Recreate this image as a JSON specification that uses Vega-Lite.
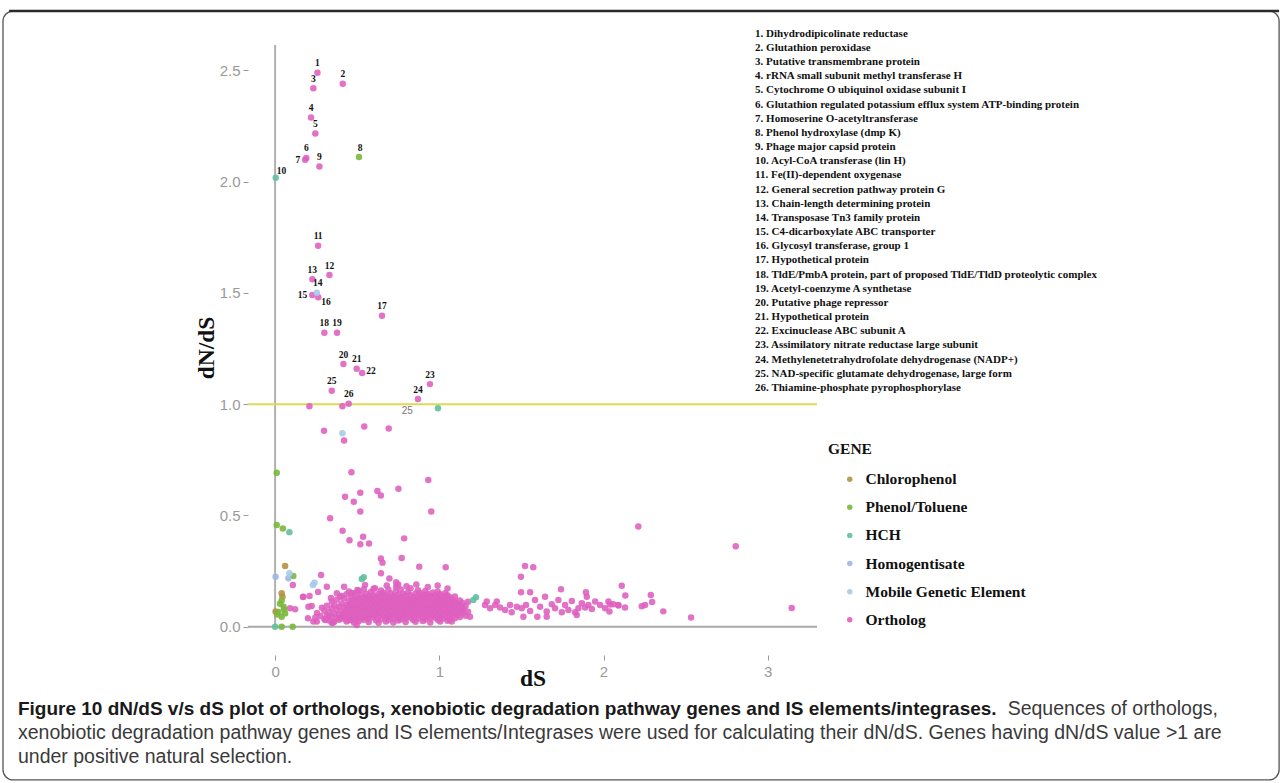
{
  "$schema": "https://vega.github.io/schema/vega-lite/v6.json",
  "width": 569,
  "height": 615,
  "autosize": {"type": "none"},
  "padding": {"left": 248, "top": 40, "right": 465, "bottom": 128},
  "background": "white",
  "config": {
    "view": {"stroke": null},
    "axis": {"grid": false, "domain": false}
  },
  "datasets": {
    "one": [{}],
    "ortho": [
      {"dS":0.258,"dNdS":2.489,"id":"1"},{"dS":0.412,"dNdS":2.439,"id":"2"},{"dS":0.233,"dNdS":2.419,"id":"3"},{"dS":0.219,"dNdS":2.288,"id":"4"},{"dS":0.245,"dNdS":2.216,"id":"5"},{"dS":0.190,"dNdS":2.106,"id":"6"},{"dS":0.183,"dNdS":2.098,"id":"7"},{"dS":0.270,"dNdS":2.068,"id":"9"},{"dS":0.262,"dNdS":1.712,"id":"11"},{"dS":0.331,"dNdS":1.580,"id":"12"},{"dS":0.227,"dNdS":1.561,"id":"13"},{"dS":0.227,"dNdS":1.490,"id":"15"},{"dS":0.263,"dNdS":1.480,"id":"16"},{"dS":0.651,"dNdS":1.397,"id":"17"},{"dS":0.300,"dNdS":1.321,"id":"18"},{"dS":0.377,"dNdS":1.321,"id":"19"},{"dS":0.416,"dNdS":1.180,"id":"20"},{"dS":0.497,"dNdS":1.159,"id":"21"},{"dS":0.530,"dNdS":1.140,"id":"22"},{"dS":0.943,"dNdS":1.090,"id":"23"},{"dS":0.870,"dNdS":1.023,"id":"24"},{"dS":0.345,"dNdS":1.060,"id":"25"},{"dS":0.448,"dNdS":1.002,"id":"26"},
      {"dS":0.209,"dNdS":0.991},{"dS":0.410,"dNdS":0.991},{"dS":0.298,"dNdS":0.880},{"dS":0.420,"dNdS":0.837},{"dS":0.543,"dNdS":0.900},{"dS":0.692,"dNdS":0.891},
      {"dS":0.465,"dNdS":0.694},{"dS":0.933,"dNdS":0.659},{"dS":0.426,"dNdS":0.584},{"dS":0.519,"dNdS":0.602},{"dS":0.479,"dNdS":0.562},{"dS":0.623,"dNdS":0.610},{"dS":0.644,"dNdS":0.590},{"dS":0.751,"dNdS":0.620},{"dS":0.519,"dNdS":0.518},{"dS":0.951,"dNdS":0.518},{"dS":0.335,"dNdS":0.487},{"dS":0.411,"dNdS":0.431},{"dS":0.453,"dNdS":0.389},{"dS":0.536,"dNdS":0.404},{"dS":0.519,"dNdS":0.371},{"dS":0.572,"dNdS":0.374},{"dS":0.786,"dNdS":0.397},{"dS":0.644,"dNdS":0.307},{"dS":0.654,"dNdS":0.288},{"dS":0.771,"dNdS":0.309},{"dS":0.878,"dNdS":0.270},{"dS":1.039,"dNdS":0.267},{"dS":1.522,"dNdS":0.273},{"dS":1.572,"dNdS":0.267},{"dS":0.280,"dNdS":0.232},{"dS":0.108,"dNdS":0.187},{"dS":0.645,"dNdS":0.240},{"dS":0.696,"dNdS":0.217},{"dS":1.497,"dNdS":0.225},
      {"dS":2.212,"dNdS":0.450},{"dS":2.805,"dNdS":0.362},{"dS":3.146,"dNdS":0.084},{"dS":2.533,"dNdS":0.041},{"dS":2.364,"dNdS":0.069},{"dS":2.288,"dNdS":0.143},{"dS":2.296,"dNdS":0.111},{"dS":2.233,"dNdS":0.092},{"dS":2.253,"dNdS":0.098},{"dS":2.111,"dNdS":0.184},{"dS":2.133,"dNdS":0.140},{"dS":2.131,"dNdS":0.086},{"dS":2.091,"dNdS":0.095},{"dS":2.040,"dNdS":0.100},{"dS":2.036,"dNdS":0.068},{"dS":1.893,"dNdS":0.155},{"dS":1.898,"dNdS":0.135},{"dS":1.741,"dNdS":0.168},{"dS":1.498,"dNdS":0.155},{"dS":1.553,"dNdS":0.155},
      {"dS":0.737,"dNdS":0.200},{"dS":0.737,"dNdS":0.180},{"dS":0.608,"dNdS":0.173},{"dS":0.548,"dNdS":0.188},{"dS":0.501,"dNdS":0.165},{"dS":0.467,"dNdS":0.150},{"dS":0.170,"dNdS":0.134},{"dS":0.210,"dNdS":0.138},{"dS":0.223,"dNdS":0.093},{"dS":0.262,"dNdS":0.156},{"dS":0.340,"dNdS":0.129},{"dS":0.420,"dNdS":0.180},{"dS":0.376,"dNdS":0.150},{"dS":0.315,"dNdS":0.180},{"dS":0.396,"dNdS":0.135},
      {"dS":0.200,"dNdS":0.038},{"dS":0.254,"dNdS":0.023},{"dS":0.305,"dNdS":0.030},{"dS":0.345,"dNdS":0.018},{"dS":0.446,"dNdS":0.030},{"dS":0.497,"dNdS":0.008},{"dS":0.233,"dNdS":0.023},{"dS":0.325,"dNdS":0.045},{"dS":0.352,"dNdS":0.018},{"dS":0.396,"dNdS":0.038},{"dS":1.076,"dNdS":0.023},{"dS":1.147,"dNdS":0.075},{"dS":1.187,"dNdS":0.045},{"dS":0.091,"dNdS":0.083},{"dS":0.122,"dNdS":0.079},{"dS":0.203,"dNdS":0.090},{"dS":0.172,"dNdS":0.135},{"dS":0.255,"dNdS":0.062},{"dS":0.275,"dNdS":0.048},{"dS":0.285,"dNdS":0.085},{"dS":0.245,"dNdS":0.041},
      {"dS":0.80,"dNdS":0.182},{"dS":0.86,"dNdS":0.190},{"dS":0.93,"dNdS":0.178},{"dS":0.99,"dNdS":0.185},{"dS":0.75,"dNdS":0.190},{"dS":1.05,"dNdS":0.172},{"dS":0.68,"dNdS":0.185},
      {"dS":1.278,"dNdS":0.098},{"dS":1.309,"dNdS":0.083},{"dS":1.340,"dNdS":0.098},{"dS":1.370,"dNdS":0.086},{"dS":1.401,"dNdS":0.075},{"dS":1.431,"dNdS":0.098},{"dS":1.441,"dNdS":0.065},{"dS":1.472,"dNdS":0.090},{"dS":1.502,"dNdS":0.083},{"dS":1.528,"dNdS":0.098},{"dS":1.553,"dNdS":0.071},{"dS":1.583,"dNdS":0.120},{"dS":1.597,"dNdS":0.045},{"dS":1.614,"dNdS":0.090},{"dS":1.644,"dNdS":0.135},{"dS":1.654,"dNdS":0.068},{"dS":1.685,"dNdS":0.101},{"dS":1.705,"dNdS":0.083},{"dS":1.725,"dNdS":0.120},{"dS":1.746,"dNdS":0.065},{"dS":1.766,"dNdS":0.098},{"dS":1.786,"dNdS":0.075},{"dS":1.807,"dNdS":0.116},{"dS":1.827,"dNdS":0.065},{"dS":1.847,"dNdS":0.083},{"dS":1.868,"dNdS":0.105},{"dS":1.888,"dNdS":0.086},{"dS":1.908,"dNdS":0.098},{"dS":1.929,"dNdS":0.080},{"dS":1.949,"dNdS":0.113},{"dS":1.979,"dNdS":0.098},{"dS":2.010,"dNdS":0.083},{"dS":2.030,"dNdS":0.113},{"dS":2.060,"dNdS":0.101},{"dS":2.090,"dNdS":0.098},{"dS":1.289,"dNdS":0.113},{"dS":1.350,"dNdS":0.113},{"dS":1.512,"dNdS":0.045},{"dS":1.654,"dNdS":0.045},{"dS":1.837,"dNdS":0.053},
      {"dS":0.300,"dNdS":0.035},{"dS":0.300,"dNdS":0.072},{"dS":0.315,"dNdS":0.052},{"dS":0.315,"dNdS":0.094},{"dS":0.330,"dNdS":0.028},{"dS":0.330,"dNdS":0.066},{"dS":0.345,"dNdS":0.047},{"dS":0.345,"dNdS":0.083},{"dS":0.345,"dNdS":0.112},{"dS":0.360,"dNdS":0.022},{"dS":0.360,"dNdS":0.058},{"dS":0.360,"dNdS":0.097},{"dS":0.375,"dNdS":0.041},{"dS":0.375,"dNdS":0.076},{"dS":0.375,"dNdS":0.121},{"dS":0.390,"dNdS":0.054},{"dS":0.390,"dNdS":0.091},{"dS":0.390,"dNdS":0.031},
      {"dS":0.405,"dNdS":0.068},{"dS":0.405,"dNdS":0.104},{"dS":0.405,"dNdS":0.043},{"dS":0.405,"dNdS":0.138},{"dS":0.420,"dNdS":0.036},{"dS":0.420,"dNdS":0.061},{"dS":0.420,"dNdS":0.087},{"dS":0.420,"dNdS":0.127},{"dS":0.435,"dNdS":0.049},{"dS":0.435,"dNdS":0.074},{"dS":0.435,"dNdS":0.099},{"dS":0.435,"dNdS":0.146},{"dS":0.435,"dNdS":0.024},{"dS":0.450,"dNdS":0.041},{"dS":0.450,"dNdS":0.066},{"dS":0.450,"dNdS":0.092},{"dS":0.450,"dNdS":0.117},{"dS":0.450,"dNdS":0.158},{"dS":0.465,"dNdS":0.029},{"dS":0.465,"dNdS":0.056},{"dS":0.465,"dNdS":0.081},{"dS":0.465,"dNdS":0.107},{"dS":0.465,"dNdS":0.133},
      {"dS":0.480,"dNdS":0.046},{"dS":0.480,"dNdS":0.071},{"dS":0.480,"dNdS":0.094},{"dS":0.480,"dNdS":0.122},{"dS":0.480,"dNdS":0.151},{"dS":0.480,"dNdS":0.019},{"dS":0.495,"dNdS":0.034},{"dS":0.495,"dNdS":0.062},{"dS":0.495,"dNdS":0.086},{"dS":0.495,"dNdS":0.112},{"dS":0.495,"dNdS":0.137},{"dS":0.510,"dNdS":0.051},{"dS":0.510,"dNdS":0.077},{"dS":0.510,"dNdS":0.101},{"dS":0.510,"dNdS":0.128},{"dS":0.510,"dNdS":0.162},{"dS":0.510,"dNdS":0.026},{"dS":0.525,"dNdS":0.039},{"dS":0.525,"dNdS":0.067},{"dS":0.525,"dNdS":0.089},{"dS":0.525,"dNdS":0.116},{"dS":0.525,"dNdS":0.143},
      {"dS":0.540,"dNdS":0.031},{"dS":0.540,"dNdS":0.054},{"dS":0.540,"dNdS":0.082},{"dS":0.540,"dNdS":0.108},{"dS":0.540,"dNdS":0.131},{"dS":0.540,"dNdS":0.168},{"dS":0.555,"dNdS":0.044},{"dS":0.555,"dNdS":0.072},{"dS":0.555,"dNdS":0.096},{"dS":0.555,"dNdS":0.123},{"dS":0.555,"dNdS":0.148},{"dS":0.570,"dNdS":0.036},{"dS":0.570,"dNdS":0.061},{"dS":0.570,"dNdS":0.087},{"dS":0.570,"dNdS":0.113},{"dS":0.570,"dNdS":0.138},{"dS":0.570,"dNdS":0.021},{"dS":0.585,"dNdS":0.052},{"dS":0.585,"dNdS":0.076},{"dS":0.585,"dNdS":0.103},{"dS":0.585,"dNdS":0.127},{"dS":0.585,"dNdS":0.157},
      {"dS":0.600,"dNdS":0.041},{"dS":0.600,"dNdS":0.066},{"dS":0.600,"dNdS":0.092},{"dS":0.600,"dNdS":0.118},{"dS":0.600,"dNdS":0.142},{"dS":0.600,"dNdS":0.171},{"dS":0.615,"dNdS":0.029},{"dS":0.615,"dNdS":0.057},{"dS":0.615,"dNdS":0.081},{"dS":0.615,"dNdS":0.106},{"dS":0.615,"dNdS":0.133},{"dS":0.630,"dNdS":0.047},{"dS":0.630,"dNdS":0.071},{"dS":0.630,"dNdS":0.097},{"dS":0.630,"dNdS":0.121},{"dS":0.630,"dNdS":0.147},{"dS":0.630,"dNdS":0.018},{"dS":0.645,"dNdS":0.034},{"dS":0.645,"dNdS":0.062},{"dS":0.645,"dNdS":0.086},{"dS":0.645,"dNdS":0.112},{"dS":0.645,"dNdS":0.136},{"dS":0.645,"dNdS":0.163},
      {"dS":0.660,"dNdS":0.051},{"dS":0.660,"dNdS":0.077},{"dS":0.660,"dNdS":0.102},{"dS":0.660,"dNdS":0.126},{"dS":0.660,"dNdS":0.152},{"dS":0.675,"dNdS":0.039},{"dS":0.675,"dNdS":0.064},{"dS":0.675,"dNdS":0.091},{"dS":0.675,"dNdS":0.117},{"dS":0.675,"dNdS":0.141},{"dS":0.675,"dNdS":0.024},{"dS":0.690,"dNdS":0.031},{"dS":0.690,"dNdS":0.056},{"dS":0.690,"dNdS":0.083},{"dS":0.690,"dNdS":0.108},{"dS":0.690,"dNdS":0.132},{"dS":0.690,"dNdS":0.166},{"dS":0.705,"dNdS":0.046},{"dS":0.705,"dNdS":0.072},{"dS":0.705,"dNdS":0.097},{"dS":0.705,"dNdS":0.122},{"dS":0.705,"dNdS":0.149},
      {"dS":0.720,"dNdS":0.036},{"dS":0.720,"dNdS":0.061},{"dS":0.720,"dNdS":0.088},{"dS":0.720,"dNdS":0.113},{"dS":0.720,"dNdS":0.138},{"dS":0.720,"dNdS":0.019},{"dS":0.735,"dNdS":0.053},{"dS":0.735,"dNdS":0.078},{"dS":0.735,"dNdS":0.103},{"dS":0.735,"dNdS":0.128},{"dS":0.735,"dNdS":0.158},{"dS":0.750,"dNdS":0.042},{"dS":0.750,"dNdS":0.067},{"dS":0.750,"dNdS":0.093},{"dS":0.750,"dNdS":0.118},{"dS":0.750,"dNdS":0.143},{"dS":0.750,"dNdS":0.028},{"dS":0.765,"dNdS":0.032},{"dS":0.765,"dNdS":0.057},{"dS":0.765,"dNdS":0.082},{"dS":0.765,"dNdS":0.107},{"dS":0.765,"dNdS":0.134},{"dS":0.765,"dNdS":0.167},
      {"dS":0.780,"dNdS":0.047},{"dS":0.780,"dNdS":0.072},{"dS":0.780,"dNdS":0.098},{"dS":0.780,"dNdS":0.123},{"dS":0.780,"dNdS":0.148},{"dS":0.795,"dNdS":0.037},{"dS":0.795,"dNdS":0.062},{"dS":0.795,"dNdS":0.087},{"dS":0.795,"dNdS":0.114},{"dS":0.795,"dNdS":0.139},{"dS":0.795,"dNdS":0.021},{"dS":0.810,"dNdS":0.052},{"dS":0.810,"dNdS":0.077},{"dS":0.810,"dNdS":0.102},{"dS":0.810,"dNdS":0.127},{"dS":0.810,"dNdS":0.156},{"dS":0.825,"dNdS":0.041},{"dS":0.825,"dNdS":0.066},{"dS":0.825,"dNdS":0.092},{"dS":0.825,"dNdS":0.117},{"dS":0.825,"dNdS":0.142},{"dS":0.825,"dNdS":0.173},
      {"dS":0.840,"dNdS":0.031},{"dS":0.840,"dNdS":0.056},{"dS":0.840,"dNdS":0.083},{"dS":0.840,"dNdS":0.108},{"dS":0.840,"dNdS":0.131},{"dS":0.855,"dNdS":0.046},{"dS":0.855,"dNdS":0.071},{"dS":0.855,"dNdS":0.096},{"dS":0.855,"dNdS":0.121},{"dS":0.855,"dNdS":0.149},{"dS":0.855,"dNdS":0.022},{"dS":0.870,"dNdS":0.036},{"dS":0.870,"dNdS":0.062},{"dS":0.870,"dNdS":0.088},{"dS":0.870,"dNdS":0.112},{"dS":0.870,"dNdS":0.137},{"dS":0.870,"dNdS":0.164},{"dS":0.885,"dNdS":0.053},{"dS":0.885,"dNdS":0.078},{"dS":0.885,"dNdS":0.103},{"dS":0.885,"dNdS":0.126},{"dS":0.885,"dNdS":0.152},
      {"dS":0.900,"dNdS":0.042},{"dS":0.900,"dNdS":0.067},{"dS":0.900,"dNdS":0.092},{"dS":0.900,"dNdS":0.118},{"dS":0.900,"dNdS":0.144},{"dS":0.900,"dNdS":0.026},{"dS":0.915,"dNdS":0.032},{"dS":0.915,"dNdS":0.057},{"dS":0.915,"dNdS":0.082},{"dS":0.915,"dNdS":0.108},{"dS":0.915,"dNdS":0.133},{"dS":0.915,"dNdS":0.161},{"dS":0.930,"dNdS":0.047},{"dS":0.930,"dNdS":0.073},{"dS":0.930,"dNdS":0.097},{"dS":0.930,"dNdS":0.123},{"dS":0.930,"dNdS":0.147},{"dS":0.945,"dNdS":0.037},{"dS":0.945,"dNdS":0.061},{"dS":0.945,"dNdS":0.087},{"dS":0.945,"dNdS":0.113},{"dS":0.945,"dNdS":0.139},{"dS":0.945,"dNdS":0.019},
      {"dS":0.960,"dNdS":0.052},{"dS":0.960,"dNdS":0.077},{"dS":0.960,"dNdS":0.101},{"dS":0.960,"dNdS":0.127},{"dS":0.960,"dNdS":0.154},{"dS":0.975,"dNdS":0.041},{"dS":0.975,"dNdS":0.066},{"dS":0.975,"dNdS":0.092},{"dS":0.975,"dNdS":0.117},{"dS":0.975,"dNdS":0.142},{"dS":0.990,"dNdS":0.031},{"dS":0.990,"dNdS":0.056},{"dS":0.990,"dNdS":0.082},{"dS":0.990,"dNdS":0.107},{"dS":0.990,"dNdS":0.132},{"dS":0.990,"dNdS":0.158},{"dS":1.005,"dNdS":0.046},{"dS":1.005,"dNdS":0.071},{"dS":1.005,"dNdS":0.096},{"dS":1.005,"dNdS":0.121},{"dS":1.005,"dNdS":0.146},{"dS":1.005,"dNdS":0.023},
      {"dS":1.020,"dNdS":0.036},{"dS":1.020,"dNdS":0.062},{"dS":1.020,"dNdS":0.087},{"dS":1.020,"dNdS":0.112},{"dS":1.020,"dNdS":0.137},{"dS":1.035,"dNdS":0.052},{"dS":1.035,"dNdS":0.077},{"dS":1.035,"dNdS":0.102},{"dS":1.035,"dNdS":0.127},{"dS":1.035,"dNdS":0.151},{"dS":1.050,"dNdS":0.042},{"dS":1.050,"dNdS":0.067},{"dS":1.050,"dNdS":0.093},{"dS":1.050,"dNdS":0.117},{"dS":1.050,"dNdS":0.141},{"dS":1.050,"dNdS":0.027},{"dS":1.065,"dNdS":0.032},{"dS":1.065,"dNdS":0.058},{"dS":1.065,"dNdS":0.083},{"dS":1.065,"dNdS":0.108},{"dS":1.065,"dNdS":0.133},
      {"dS":1.080,"dNdS":0.048},{"dS":1.080,"dNdS":0.073},{"dS":1.080,"dNdS":0.098},{"dS":1.080,"dNdS":0.122},{"dS":1.095,"dNdS":0.038},{"dS":1.095,"dNdS":0.063},{"dS":1.095,"dNdS":0.088},{"dS":1.095,"dNdS":0.113},{"dS":1.095,"dNdS":0.136},{"dS":1.110,"dNdS":0.053},{"dS":1.110,"dNdS":0.078},{"dS":1.110,"dNdS":0.104},{"dS":1.125,"dNdS":0.044},{"dS":1.125,"dNdS":0.069},{"dS":1.125,"dNdS":0.094},{"dS":1.125,"dNdS":0.118},{"dS":1.140,"dNdS":0.059},{"dS":1.140,"dNdS":0.084},{"dS":1.140,"dNdS":0.108},{"dS":1.160,"dNdS":0.049},{"dS":1.160,"dNdS":0.093},{"dS":1.175,"dNdS":0.067},{"dS":1.175,"dNdS":0.112}
    ],
    "other": [
      {"dS":0.511,"dNdS":2.110,"gene":"Phenol/Toluene","id":"8"},
      {"dS":0.004,"dNdS":2.017,"gene":"HCH","id":"10"},
      {"dS":0.254,"dNdS":1.500,"gene":"Mobile Genetic Element","id":"14"},
      {"dS":0.061,"dNdS":0.273,"gene":"Chlorophenol"},
      {"dS":0.040,"dNdS":0.150,"gene":"Chlorophenol"},
      {"dS":0.003,"dNdS":0.068,"gene":"Chlorophenol"},
      {"dS":0.045,"dNdS":0.135,"gene":"Chlorophenol"},
      {"dS":0.010,"dNdS":0.692,"gene":"Phenol/Toluene"},
      {"dS":0.010,"dNdS":0.457,"gene":"Phenol/Toluene"},
      {"dS":0.047,"dNdS":0.441,"gene":"Phenol/Toluene"},
      {"dS":0.111,"dNdS":0.228,"gene":"Phenol/Toluene"},
      {"dS":0.040,"dNdS":0.118,"gene":"Phenol/Toluene"},
      {"dS":0.030,"dNdS":0.103,"gene":"Phenol/Toluene"},
      {"dS":0.052,"dNdS":0.090,"gene":"Phenol/Toluene"},
      {"dS":0.020,"dNdS":0.066,"gene":"Phenol/Toluene"},
      {"dS":0.061,"dNdS":0.060,"gene":"Phenol/Toluene"},
      {"dS":0.040,"dNdS":0.045,"gene":"Phenol/Toluene"},
      {"dS":0.040,"dNdS":0.000,"gene":"Phenol/Toluene"},
      {"dS":0.107,"dNdS":0.000,"gene":"Phenol/Toluene"},
      {"dS":0.012,"dNdS":0.055,"gene":"Phenol/Toluene"},
      {"dS":0.055,"dNdS":0.078,"gene":"Phenol/Toluene"},
      {"dS":0.992,"dNdS":0.982,"gene":"HCH"},
      {"dS":0.087,"dNdS":0.425,"gene":"HCH"},
      {"dS":0.528,"dNdS":0.214,"gene":"HCH"},
      {"dS":0.540,"dNdS":0.222,"gene":"HCH"},
      {"dS":1.207,"dNdS":0.120,"gene":"HCH"},
      {"dS":1.223,"dNdS":0.133,"gene":"HCH"},
      {"dS":0.000,"dNdS":0.000,"gene":"HCH"},
      {"dS":0.003,"dNdS":0.225,"gene":"Homogentisate"},
      {"dS":0.081,"dNdS":0.218,"gene":"Homogentisate"},
      {"dS":0.410,"dNdS":0.869,"gene":"Mobile Genetic Element"},
      {"dS":0.087,"dNdS":0.240,"gene":"Mobile Genetic Element"},
      {"dS":0.240,"dNdS":0.198,"gene":"Mobile Genetic Element"},
      {"dS":0.230,"dNdS":0.188,"gene":"Mobile Genetic Element"}
    ],
    "key": [
      {"n":1,"label":"1. Dihydrodipicolinate reductase"},
      {"n":2,"label":"2. Glutathion peroxidase"},
      {"n":3,"label":"3. Putative transmembrane protein"},
      {"n":4,"label":"4. rRNA small subunit methyl transferase H"},
      {"n":5,"label":"5. Cytochrome O ubiquinol oxidase subunit I"},
      {"n":6,"label":"6. Glutathion regulated potassium efflux system ATP-binding protein"},
      {"n":7,"label":"7. Homoserine O-acetyltransferase"},
      {"n":8,"label":"8. Phenol hydroxylase (dmp K)"},
      {"n":9,"label":"9. Phage major capsid protein"},
      {"n":10,"label":"10. Acyl-CoA transferase (lin H)"},
      {"n":11,"label":"11. Fe(II)-dependent oxygenase"},
      {"n":12,"label":"12. General secretion pathway protein G"},
      {"n":13,"label":"13. Chain-length determining protein"},
      {"n":14,"label":"14. Transposase Tn3 family protein"},
      {"n":15,"label":"15. C4-dicarboxylate ABC transporter"},
      {"n":16,"label":"16. Glycosyl transferase, group 1"},
      {"n":17,"label":"17. Hypothetical protein"},
      {"n":18,"label":"18. TldE/PmbA protein, part of proposed TldE/TldD proteolytic complex"},
      {"n":19,"label":"19. Acetyl-coenzyme A synthetase"},
      {"n":20,"label":"20. Putative phage repressor"},
      {"n":21,"label":"21. Hypothetical protein"},
      {"n":22,"label":"22. Excinuclease ABC subunit A"},
      {"n":23,"label":"23. Assimilatory nitrate reductase large subunit"},
      {"n":24,"label":"24. Methylenetetrahydrofolate dehydrogenase (NADP+)"},
      {"n":25,"label":"25. NAD-specific glutamate dehydrogenase, large form"},
      {"n":26,"label":"26. Thiamine-phosphate pyrophosphorylase"}
    ]
  },
  "layer": [
    {
      "layer": [
        {
          "data": {"name": "one"},
          "mark": {"type": "rect", "fill": null, "fillOpacity": 0, "stroke": "#555555", "strokeWidth": 1.3, "cornerRadius": 10},
          "encoding": {
            "x": {"datum": -1.657}, "x2": {"datum": 6.114},
            "y": {"datum": 2.766}, "y2": {"datum": -0.688}
          }
        },
        {
          "data": {"name": "one"},
          "mark": {"type": "rule", "color": "#2a2a2a", "strokeWidth": 2.5},
          "encoding": {
            "x": {"datum": -1.62}, "x2": {"datum": 6.114},
            "y": {"datum": 2.766}
          }
        },
        {
          "data": {"name": "one"},
          "mark": {"type": "rule", "color": "#a8a8a8", "strokeWidth": 2},
          "encoding": {"y": {"datum": 0}}
        },
        {
          "data": {"name": "one"},
          "mark": {"type": "rule", "color": "#b0b0b0", "strokeWidth": 2},
          "encoding": {"x": {"datum": 0}, "y": {"datum": 0}, "y2": {"datum": 2.614}}
        },
        {
          "data": {"name": "one"},
          "mark": {"type": "rule", "color": "#DEDA55", "strokeWidth": 2},
          "encoding": {"y": {"datum": 1}}
        },
        {
          "data": {"name": "ortho"},
          "mark": {"type": "circle", "size": 42, "opacity": 0.88},
          "encoding": {
            "x": {
              "field": "dS", "type": "quantitative",
              "scale": {"domain": [-0.165, 3.3], "nice": false, "zero": false},
              "axis": {
                "values": [0, 1, 2, 3], "format": "d",
                "labelFont": "Liberation Sans", "labelFontSize": 15, "labelColor": "#9a9a9a",
                "tickColor": "#9a9a9a", "tickSize": 5, "tickWidth": 1, "labelPadding": 4,
                "title": "dS", "titleFont": "Liberation Serif", "titleFontSize": 23.5,
                "titleFontWeight": "bold", "titleColor": "#111111", "titlePadding": -13
              }
            },
            "y": {
              "field": "dNdS", "type": "quantitative",
              "scale": {"domain": [-0.127, 2.636], "nice": false, "zero": false},
              "axis": {
                "values": [0, 0.5, 1, 1.5, 2, 2.5], "format": ".1f",
                "labelFont": "Liberation Sans", "labelFontSize": 15, "labelColor": "#9a9a9a",
                "tickColor": "#9a9a9a", "tickSize": 5, "tickWidth": 1, "labelPadding": 3,
                "title": "dN/dS", "titleFont": "Liberation Serif", "titleFontSize": 23.5,
                "titleFontWeight": "bold", "titleColor": "#111111", "titlePadding": 1
              }
            },
            "color": {
              "datum": "Ortholog", "type": "nominal",
              "scale": {
                "domain": ["Chlorophenol", "Phenol/Toluene", "HCH", "Homogentisate", "Mobile Genetic Element", "Ortholog"],
                "range": ["#B49244", "#7AB83C", "#62C0A0", "#9CB9E0", "#A4CBEA", "#DE5FBE"]
              },
              "legend": {
                "title": "GENE", "orient": "none", "legendX": 580, "legendY": 402,
                "padding": 0,
                "titleFont": "Liberation Serif", "titleFontSize": 15.5, "titleFontWeight": "bold", "titleColor": "#111111", "titlePadding": 14,
                "labelFont": "Liberation Serif", "labelFontSize": 15.5, "labelFontWeight": "bold", "labelColor": "#111111", "labelLimit": 400,
                "symbolType": "circle", "symbolSize": 30, "symbolStrokeWidth": 0, "symbolOpacity": 0.85,
                "symbolOffset": 14, "labelOffset": 8, "rowPadding": 11.1
              }
            }
          }
        },
        {
          "data": {"name": "other"},
          "mark": {"type": "circle", "size": 42, "opacity": 0.9},
          "encoding": {
            "x": {"field": "dS", "type": "quantitative"},
            "y": {"field": "dNdS", "type": "quantitative"},
            "color": {"field": "gene", "type": "nominal"}
          }
        },
        {
          "data": {"name": "ortho"},
          "transform": [{"filter": {"field": "id", "oneOf": ["1","2","3","4","5","6","9","11","12","13","17","18","19","20","21","23","24","25","26"]}}],
          "mark": {"type": "text", "font": "Liberation Serif", "fontSize": 9.5, "fontWeight": "bold", "color": "#111111", "baseline": "middle", "align": "center", "dy": -9.5},
          "encoding": {"x": {"field": "dS", "type": "quantitative"}, "y": {"field": "dNdS", "type": "quantitative"}, "text": {"field": "id"}}
        },
        {
          "data": {"name": "other"},
          "transform": [{"filter": {"field": "id", "oneOf": ["8","14"]}}],
          "mark": {"type": "text", "font": "Liberation Serif", "fontSize": 9.5, "fontWeight": "bold", "color": "#111111", "baseline": "middle", "align": "center", "dy": -9.5, "dx": 1},
          "encoding": {"x": {"field": "dS", "type": "quantitative"}, "y": {"field": "dNdS", "type": "quantitative"}, "text": {"field": "id"}}
        },
        {
          "data": {"name": "other"},
          "transform": [{"filter": {"field": "id", "oneOf": ["10"]}}],
          "mark": {"type": "text", "font": "Liberation Serif", "fontSize": 9.5, "fontWeight": "bold", "color": "#111111", "baseline": "middle", "align": "left", "dy": -7, "dx": 1},
          "encoding": {"x": {"field": "dS", "type": "quantitative"}, "y": {"field": "dNdS", "type": "quantitative"}, "text": {"field": "id"}}
        },
        {
          "data": {"name": "ortho"},
          "transform": [{"filter": {"field": "id", "oneOf": ["7","15"]}}],
          "mark": {"type": "text", "font": "Liberation Serif", "fontSize": 9.5, "fontWeight": "bold", "color": "#111111", "baseline": "middle", "align": "right", "dx": -5},
          "encoding": {"x": {"field": "dS", "type": "quantitative"}, "y": {"field": "dNdS", "type": "quantitative"}, "text": {"field": "id"}}
        },
        {
          "data": {"name": "ortho"},
          "transform": [{"filter": {"field": "id", "oneOf": ["16"]}}],
          "mark": {"type": "text", "font": "Liberation Serif", "fontSize": 9.5, "fontWeight": "bold", "color": "#111111", "baseline": "middle", "align": "left", "dx": 3, "dy": 5},
          "encoding": {"x": {"field": "dS", "type": "quantitative"}, "y": {"field": "dNdS", "type": "quantitative"}, "text": {"field": "id"}}
        },
        {
          "data": {"name": "ortho"},
          "transform": [{"filter": {"field": "id", "oneOf": ["22"]}}],
          "mark": {"type": "text", "font": "Liberation Serif", "fontSize": 9.5, "fontWeight": "bold", "color": "#111111", "baseline": "middle", "align": "left", "dx": 4, "dy": -2},
          "encoding": {"x": {"field": "dS", "type": "quantitative"}, "y": {"field": "dNdS", "type": "quantitative"}, "text": {"field": "id"}}
        },
        {
          "data": {"name": "one"},
          "mark": {"type": "text", "font": "Liberation Sans", "fontSize": 10, "color": "#777777", "baseline": "middle", "align": "center"},
          "encoding": {"x": {"datum": 0.805}, "y": {"datum": 0.97}, "text": {"value": "25"}}
        },
        {
          "data": {"name": "one"},
          "mark": {"type": "text", "font": "Liberation Sans", "fontSize": 19, "fontWeight": "bold", "color": "#1a1a1a", "baseline": "middle", "align": "left"},
          "encoding": {"x": {"datum": -1.566}, "y": {"datum": -0.369}, "text": {"value": "Figure 10 dN/dS v/s dS plot of orthologs, xenobiotic degradation pathway genes and IS elements/integrases."}}
        },
        {
          "data": {"name": "one"},
          "mark": {"type": "text", "font": "Liberation Sans", "fontSize": 19.5, "color": "#3a3a3a", "baseline": "middle", "align": "left"},
          "encoding": {"x": {"datum": 4.461}, "y": {"datum": -0.369}, "text": {"value": "Sequences of orthologs,"}}
        },
        {
          "data": {"name": "one"},
          "mark": {"type": "text", "font": "Liberation Sans", "fontSize": 19.5, "color": "#3a3a3a", "baseline": "middle", "align": "left"},
          "encoding": {"x": {"datum": -1.566}, "y": {"datum": -0.477}, "text": {"value": "xenobiotic degradation pathway genes and IS elements/Integrases were used for calculating their dN/dS. Genes having dN/dS value >1 are"}}
        },
        {
          "data": {"name": "one"},
          "mark": {"type": "text", "font": "Liberation Sans", "fontSize": 19.5, "color": "#3a3a3a", "baseline": "middle", "align": "left"},
          "encoding": {"x": {"datum": -1.566}, "y": {"datum": -0.585}, "text": {"value": "under positive natural selection."}}
        }
      ]
    },
    {
      "data": {"name": "key"},
      "mark": {"type": "text", "font": "Liberation Serif", "fontSize": 11, "fontWeight": "bold", "color": "#111111", "baseline": "middle", "align": "left"},
      "encoding": {
        "x": {"datum": 2.923},
        "y": {"field": "n", "type": "quantitative", "scale": {"domain": [1.4446, 44.846], "reverse": true, "nice": false, "zero": false}, "axis": null},
        "text": {"field": "label"}
      }
    }
  ],
  "resolve": {"scale": {"y": "independent"}}
}
